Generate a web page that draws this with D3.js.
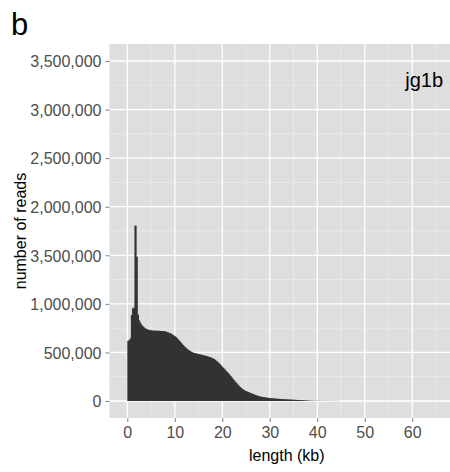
<!DOCTYPE html>
<html>
<head>
<meta charset="utf-8">
<script src="https://cdn.jsdelivr.net/npm/d3@7"></script>
<style>
  html, body { margin: 0; padding: 0; background: #fff; }
  svg { display: block; font-family: "Liberation Sans", Arial, Helvetica, sans-serif; }
</style>
</head>
<body>
<svg id="chart" width="450" height="472"></svg>
<script>
// ---- data ----
const binStart = 0;          // kb
const binWidth = 0.25;       // kb
const counts = [
  620000, 625000, 645000, 885000, 955000, 960000, 1805000, 1485000, 890000, 830000,
  805000, 785000, 770000, 758000, 748000, 742000, 736000, 732000, 729000, 727000,
  725000, 724000, 723000, 724000, 722000, 723000, 722000, 721000, 720000, 720000,
  718000, 716000, 712000, 708000, 703000, 698000, 692000, 684000, 675000, 667000,
  658000, 645000, 632000, 618000, 604000, 590000, 576000, 563000, 551000, 540000,
  530000, 521000, 513000, 506000, 500000, 495000, 492000, 489000, 486000, 483000,
  480000, 477000, 474000, 471000, 468000, 465000, 462000, 458000, 454000, 450000,
  445000, 439000, 432000, 424000, 414000, 403000, 391000, 379000, 366000, 352000,
  339000, 326000, 313000, 300000, 287000, 273000, 258000, 243000, 228000, 213000,
  198000, 184000, 170000, 157000, 145000, 134000, 124000, 115000, 107000, 101000,
  97000, 92000, 87000, 81000, 76000, 71000, 66000, 62000, 57000, 53000,
  49000, 46000, 43000, 41000, 39000, 37000, 35000, 33000, 31500, 30000,
  28500, 27500, 26500, 25500, 24500, 23500, 22500, 21500, 20500, 19500,
  18500, 17800, 17000, 16300, 15600, 15000, 14300, 13700, 13100, 12500,
  12000, 11400, 10800, 10200, 9600, 9000, 8200, 7300, 6300, 5300,
  4500, 3800, 3200, 2700, 2300, 2000, 1800, 1600, 1400, 1300,
  1200, 1100, 1050, 1000, 950, 900, 850, 800, 760, 720,
  680, 640, 600, 570, 540, 510, 480, 450, 420, 400
];
const xTicks = [0, 10, 20, 30, 40, 50, 60];
const xMinor = [5, 15, 25, 35, 45, 55, 65];
const yTicks = [0, 500000, 1000000, 1500000, 2000000, 2500000, 3000000, 3500000];
const yTickLabels = ["0", "500,000", "1,000,000", "3,500,000", "2,000,000", "2,500,000", "3,000,000", "3,500,000"];
const yMinor = [250000, 750000, 1250000, 1750000, 2250000, 2750000, 3250000];
const panelLabel = "b";
const sampleLabel = "jg1b";
const xTitle = "length (kb)";
const yTitle = "number of reads";

// ---- layout ----
const P = { left: 109.5, right: 464, top: 44, bottom: 418 };
const svg = d3.select("#chart");

const x = d3.scaleLinear().domain([-3.75, 70.9]).range([P.left, P.right]);
const y = d3.scaleLinear().domain([-175000, 3675000]).range([P.bottom, P.top]);

// panel background
svg.append("rect")
  .attr("x", P.left).attr("y", P.top)
  .attr("width", P.right - P.left).attr("height", P.bottom - P.top)
  .attr("fill", "#dedede");

const grid = svg.append("g");
// minor grid
grid.selectAll(".xm").data(xMinor).join("line")
  .attr("x1", d => x(d)).attr("x2", d => x(d))
  .attr("y1", P.top).attr("y2", P.bottom)
  .attr("stroke", "#ebebeb").attr("stroke-width", 0.8);
grid.selectAll(".ym").data(yMinor).join("line")
  .attr("x1", P.left).attr("x2", P.right)
  .attr("y1", d => y(d)).attr("y2", d => y(d))
  .attr("stroke", "#ebebeb").attr("stroke-width", 0.8);
// major grid
grid.selectAll(".xM").data(xTicks).join("line")
  .attr("x1", d => x(d)).attr("x2", d => x(d))
  .attr("y1", P.top).attr("y2", P.bottom)
  .attr("stroke", "#ffffff").attr("stroke-width", 1.3);
grid.selectAll(".yM").data(yTicks).join("line")
  .attr("x1", P.left).attr("x2", P.right)
  .attr("y1", d => y(d)).attr("y2", d => y(d))
  .attr("stroke", "#ffffff").attr("stroke-width", 1.3);

// bars (each bar overlaps the next slightly so no anti-aliasing seams appear)
const bins = counts.map((c, i) => ({ x0: binStart + i * binWidth, x1: binStart + (i + 1) * binWidth, c, last: i === counts.length - 1 }));
svg.append("g").selectAll("rect").data(bins).join("rect")
  .attr("x", d => x(d.x0))
  .attr("width", d => x(d.x1) - x(d.x0) + (d.last ? 0 : 1))
  .attr("y", d => y(d.c))
  .attr("height", d => y(0) - y(d.c))
  .attr("fill", "#333333");

// y axis
const yAxis = d3.axisLeft(y).tickValues(yTicks).tickSize(4).tickPadding(4)
  .tickFormat((d, i) => yTickLabels[i]);
const gy = svg.append("g").attr("transform", `translate(${P.left},0)`).call(yAxis);
gy.select(".domain").remove();
gy.selectAll(".tick line").attr("stroke", "#7f7f7f").attr("stroke-width", 1);
gy.selectAll(".tick text").attr("fill", "#4d4d4d").attr("font-size", 16)
  .attr("dy", "0.36em");

// x axis
const xAxis = d3.axisBottom(x).tickValues(xTicks).tickSize(4).tickPadding(3);
const gx = svg.append("g").attr("transform", `translate(0,${P.bottom})`).call(xAxis);
gx.select(".domain").remove();
gx.selectAll(".tick line").attr("stroke", "#7f7f7f").attr("stroke-width", 1);
gx.selectAll(".tick text").attr("fill", "#4d4d4d").attr("font-size", 16)
  .attr("dy", null).attr("y", 19.7);

// titles
svg.append("text").attr("x", (P.left + P.right) / 2).attr("y", 460.5)
  .attr("text-anchor", "middle").attr("font-size", 16).attr("fill", "#000")
  .text(xTitle);
svg.append("text")
  .attr("transform", `translate(26,${(P.top + P.bottom) / 2}) rotate(-90)`)
  .attr("text-anchor", "middle").attr("font-size", 16).attr("fill", "#000")
  .text(yTitle);
svg.append("text").attr("x", 11).attr("y", 34.5)
  .attr("font-size", 31).attr("fill", "#000").text(panelLabel);
svg.append("text").attr("x", 443).attr("y", 86.5)
  .attr("text-anchor", "end").attr("font-size", 20).attr("fill", "#000")
  .text(sampleLabel);
</script>
</body>
</html>
